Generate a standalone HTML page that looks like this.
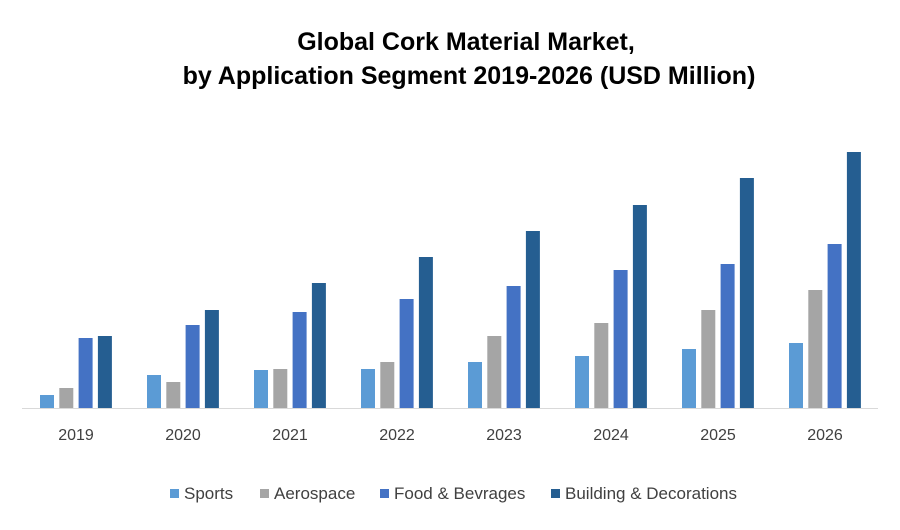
<!DOCTYPE html>
<html><head><meta charset="utf-8"><style>
body{margin:0;background:#fff;width:900px;height:525px;overflow:hidden;font-family:"Liberation Sans",sans-serif}
</style></head><body>
<svg width="900" height="525" id="c">
<text x="466" y="50" text-anchor="middle" font-size="25" font-weight="bold" fill="#000">Global Cork Material Market,</text>
<text x="469" y="84" text-anchor="middle" font-size="25" font-weight="bold" fill="#000">by Application Segment 2019-2026 (USD Million)</text>
<line x1="22" y1="408.5" x2="878" y2="408.5" stroke="#d9d9d9"/>
<g id="bars"></g><g id="xl"></g><g id="lg"></g>
</svg>
<script>
const categories=["2019","2020","2021","2022","2023","2024","2025","2026"];
const sports=[13,33,38,39,46,52,59,65];
const aerospace=[20,26,39,46,72,85,98,118];
const food=[70,83,96,109,122,138,144,164];
const building=[72,98,125,151,177,203,230,256];
const seriesNames=["Sports","Aerospace","Food & Bevrages","Building & Decorations"];
const series=[sports,aerospace,food,building];
const colors=["#5b9bd5","#a5a5a5","#4472c4","#255e91"];
const NS="http://www.w3.org/2000/svg";
const base=408, groupW=107, x0=40;
function y(v){return base-v;}
function xb(i,s){return x0+i*groupW+s*19.3;}
const bars=document.getElementById('bars');
series.forEach((arr,s)=>arr.forEach((v,i)=>{
 const r=document.createElementNS(NS,'rect');
 r.setAttribute('x',xb(i,s));r.setAttribute('y',y(v));
 r.setAttribute('width',14);r.setAttribute('height',v);
 r.setAttribute('fill',colors[s]);
 
 
 bars.appendChild(r);
}));
const xl=document.getElementById('xl');
categories.forEach((c,i)=>{
 const t=document.createElementNS(NS,'text');
 t.setAttribute('x',x0+i*groupW+36);t.setAttribute('y',440);
 t.setAttribute('text-anchor','middle');t.setAttribute('font-size','16');t.setAttribute('fill','#404040');
 t.textContent=c;
 
 
 xl.appendChild(t);
});
const lg=document.getElementById('lg');
const lx=[170,260,380,551];
seriesNames.forEach((n,s)=>{
 const g=document.createElementNS(NS,'g');
 
 
 const r=document.createElementNS(NS,'rect');
 r.setAttribute('x',lx[s]);r.setAttribute('y',489);r.setAttribute('width',9);r.setAttribute('height',9);r.setAttribute('fill',colors[s]);
 const t=document.createElementNS(NS,'text');
 t.setAttribute('x',lx[s]+14);t.setAttribute('y',499);t.setAttribute('font-size','17');t.setAttribute('fill','#404040');
 t.textContent=n;
 g.appendChild(r);g.appendChild(t);lg.appendChild(g);
});
</script>
</body></html>
